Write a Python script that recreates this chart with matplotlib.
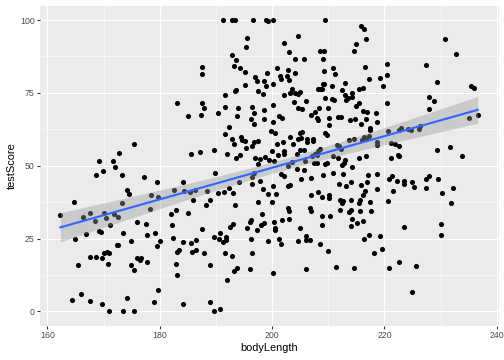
import numpy as np
import matplotlib
matplotlib.use('Agg')
import matplotlib.pyplot as plt

plt.rcParams['font.family'] = ['Liberation Sans', 'DejaVu Sans']

# points (bodyLength, testScore)
body_length = [
    191.3, 192.9, 193.4, 196.6, 198.9, 199.2, 195.6, 195.3, 192.8, 193.5, 187.6, 187.6, 193.3, 194.3, 195.2,
    196.9, 197.3, 198.6, 199.1, 198.9, 195.2, 193.6, 193.4, 197.5, 198.3, 191.6, 183.1, 187.6, 187.8, 190.3,
    191.6, 194.0, 196.4, 196.7, 198.6,
    200.2, 209.5, 215.8, 216.3, 204.7, 202.1, 216.8, 215.0, 203.0, 214.5, 208.5, 209.2, 204.1, 205.7, 209.1,
    200.8, 202.8, 209.3, 210.9, 211.2, 216.6, 204.1, 201.4, 201.6, 202.6, 203.1, 217.3, 219.3, 200.2, 209.1,
    209.3, 210.7, 213.0, 219.7, 203.5, 208.1, 208.5, 208.8, 212.4, 215.5, 216.1, 203.2, 204.0, 204.6, 205.0,
    202.1, 212.9, 214.3, 213.6, 214.2, 213.2, 209.4, 210.7, 211.1, 215.4, 214.9, 206.0, 203.9, 200.2, 208.4,
    210.0, 204.6, 205.4, 207.7, 216.2, 216.9, 218.5,
    220.4, 220.4, 230.8, 232.7, 227.4, 229.3, 235.4, 236.0, 220.4, 228.0, 228.9, 228.0,
    175.4, 169.1, 171.6, 172.8, 172.0, 168.7, 169.9, 173.2, 177.2, 174.1, 174.5, 164.7, 178.5, 173.2, 162.3,
    166.3, 167.5, 170.0, 170.5, 171.9, 172.6, 178.2,
    168.4, 175.9, 177.5, 171.1, 169.2, 169.5, 166.9, 173.5, 177.8, 179.1, 164.9, 174.8, 172.3, 172.6, 170.1,
    170.6, 170.9, 167.6, 168.7, 169.8, 170.8, 165.5, 176.0, 176.4, 176.7, 174.9, 175.5, 177.8, 164.3, 165.9,
    167.5, 169.7, 174.2, 179.0, 171.0, 173.5, 175.5,
    182.2, 187.6, 180.0, 179.5, 182.4, 184.1, 185.5, 186.4, 185.7, 186.4, 183.0, 183.5, 187.9, 189.7, 190.7,
    190.5, 191.2, 191.8, 191.8, 192.5, 193.1, 195.6, 196.0, 196.3, 198.0, 198.6, 197.4, 196.2, 199.2, 182.9,
    183.1, 189.0, 191.6, 192.9, 193.2, 193.7, 192.0, 196.1, 196.4, 179.7, 184.2, 188.9, 189.6, 190.7,
    200.4, 200.5, 200.6, 201.8, 203.1, 204.9, 208.8, 214.0, 215.1, 216.1, 201.2, 201.5, 204.6, 206.0, 206.0,
    206.8, 208.6, 209.9, 216.4, 217.2, 219.3, 218.1, 219.6, 206.0, 211.3, 214.5, 200.1, 214.3,
    223.5, 230.0, 230.0, 222.6, 220.8, 225.6, 224.9,
    185.1, 187.3, 193.8, 196.3, 196.7, 198.6, 192.4, 191.6, 192.8, 193.2, 194.5, 194.7, 195.2, 195.4, 196.8,
    197.5, 196.4, 185.5, 187.2, 189.7, 191.9, 193.5, 194.2, 196.9, 197.8, 198.8, 199.5, 197.5, 189.9, 179.5,
    179.7, 182.5, 184.1, 184.3, 185.4, 186.2, 188.4, 190.4, 191.5, 192.3, 193.1, 194.1, 196.5, 196.4, 196.7,
    197.9, 198.3, 199.2, 186.0, 189.0, 188.3, 193.4, 197.5, 198.2, 182.0, 182.9, 185.0,
    201.3, 201.8, 206.9, 208.0, 208.2, 210.1, 211.7, 212.3, 213.9, 214.7, 216.8, 218.6, 200.2, 199.8, 200.5,
    210.2, 209.4, 209.8, 205.0, 205.4, 203.2, 204.7, 205.2, 206.3, 206.3, 207.2, 207.3, 203.8, 200.8, 201.9,
    200.0, 202.1, 205.0, 205.6, 208.5, 208.2, 207.6, 208.0, 207.1, 204.4, 201.1, 202.1, 211.5, 211.9, 210.9,
    212.2, 213.7, 214.5, 215.8, 217.5, 217.5, 216.4, 216.8, 217.2, 216.0, 218.6, 218.6, 205.9, 207.5, 208.0,
    203.5, 200.4, 202.9, 204.4, 209.4, 209.8, 211.7, 212.4, 212.8, 212.9, 215.5, 216.8, 201.6, 202.1, 205.7,
    209.0, 210.9, 212.6, 214.2, 217.1, 218.7, 200.1, 200.7, 202.8, 203.2, 205.2, 206.9, 212.0, 213.2, 214.0,
    215.8, 216.9, 216.6, 216.1, 218.6, 207.0, 208.1, 208.8, 210.1, 210.1, 212.1, 212.4, 212.6, 214.0, 215.5,
    215.6, 217.4, 200.0, 202.8, 203.0, 206.8, 207.0, 208.9, 210.4, 212.1, 213.7, 214.0, 215.6, 217.7,
    235.1, 236.6, 223.0, 222.6, 224.2, 224.7, 226.2, 226.4, 220.7, 221.2, 221.9, 222.6, 221.1, 222.6, 222.4,
    229.3, 231.7, 233.8, 221.3, 220.9, 222.2, 223.5, 223.5, 224.9, 225.3, 227.4, 228.0, 229.6, 227.4, 232.2,
    230.3, 221.5, 220.7, 231.8,
]
test_score = [
    100, 100, 100, 100, 100, 99.6, 94.0, 90.6, 88.1, 86.4, 83.8, 81.5, 84.3, 83.4, 82.3,
    80.4, 79.2, 79.0, 81.8, 77.3, 77.7, 76.1, 75.5, 75.6, 74.5, 74.3, 71.6, 71.5, 69.8, 68.1,
    70.0, 69.7, 70.2, 68.2, 69.0,
    100, 100, 98.0, 97.1, 94.6, 92.2, 93.5, 91.9, 89.2, 89.3, 89.5, 89.5, 86.8, 86.8, 86.6,
    83.4, 83.0, 82.6, 83.7, 81.5, 83.8, 81.7, 80.7, 79.8, 80.9, 79.6, 79.9, 80.0, 77.9, 78.2,
    77.9, 77.2, 78.4, 77.3, 76.5, 76.5, 76.4, 76.2, 76.0, 76.5, 76.7, 74.8, 75.0, 74.5, 75.4,
    74.2, 74.3, 74.9, 73.3, 73.5, 72.4, 73.2, 73.0, 72.4, 71.4, 70.6, 72.3, 71.8, 70.7, 69.8,
    69.9, 69.7, 69.6, 68.3, 68.8, 68.6, 68.1,
    85.0, 81.0, 93.5, 88.5, 84.6, 78.9, 77.3, 76.7, 71.5, 73.5, 72.2, 69.6,
    57.4, 51.7, 51.7, 54.4, 49.7, 46.8, 48.1, 46.8, 46.3, 41.6, 40.2, 37.6, 40.1, 37.2, 33.1,
    32.5, 33.8, 33.8, 32.2, 33.5, 32.3, 35.1,
    31.0, 30.7, 29.9, 29.5, 27.6, 27.4, 26.5, 26.9, 26.2, 26.8, 24.8, 24.1, 22.7, 22.9, 20.1,
    20.5, 20.2, 18.7, 18.7, 18.4, 16.2, 16.1, 18.4, 17.7, 18.4, 16.1, 14.3, 16.8, 4.0, 6.0,
    3.6, 2.6, 4.5, 3.4, 0, 0, 0,
    29.7, 28.3, 24.1, 22.5, 25.1, 23.7, 23.5, 24.4, 20.5, 21.2, 20.3, 21.0, 20.0, 25.6, 26.8,
    24.7, 23.9, 24.4, 25.5, 28.9, 29.9, 28.8, 30.7, 31.3, 29.7, 30.5, 28.0, 24.7, 24.2, 16.2,
    12.5, 15.9, 20.0, 19.1, 14.0, 14.9, 10.9, 14.4, 20.0, 7.4, 2.6, 3.4, 0, 0.8,
    30.7, 28.6, 27.8, 31.4, 31.8, 28.6, 29.8, 29.3, 30.2, 31.1, 25.0, 23.3, 24.3, 25.8, 24.4,
    24.5, 23.0, 20.6, 24.7, 26.2, 25.9, 20.1, 21.5, 14.5, 15.3, 15.0, 13.1, 31.6,
    29.1, 30.0, 26.4, 16.8, 14.9, 15.6, 6.5,
    67.1, 67.3, 67.1, 66.0, 64.2, 66.2, 63.4, 60.9, 59.2, 57.6, 59.9, 58.8, 58.5, 56.0, 58.2,
    58.5, 56.7, 54.0, 54.8, 55.4, 54.0, 52.7, 53.8, 52.5, 52.2, 53.1, 52.1, 50.6, 47.5, 44.5,
    39.4, 41.8, 44.4, 41.5, 41.1, 41.7, 41.5, 40.8, 41.0, 42.4, 40.8, 44.3, 43.7, 46.3, 47.4,
    44.9, 42.0, 40.3, 38.4, 38.1, 36.5, 36.4, 37.7, 33.3, 33.5, 34.9, 33.9,
    67.1, 66.3, 67.3, 66.5, 65.6, 66.3, 66.7, 66.9, 65.6, 66.0, 66.0, 65.1, 65.1, 61.9, 61.4,
    63.9, 61.4, 60.6, 61.2, 61.6, 59.9, 59.1, 59.4, 59.1, 58.3, 59.3, 58.5, 57.6, 57.4, 58.3,
    55.1, 55.1, 55.5, 55.4, 55.9, 55.1, 54.2, 53.6, 53.4, 54.0, 53.6, 54.2, 57.2, 56.8, 53.4,
    55.7, 59.0, 59.2, 64.4, 62.9, 62.2, 59.7, 59.2, 60.2, 58.8, 58.3, 57.1, 51.7, 50.8, 50.9,
    51.3, 51.7, 50.0, 48.9, 50.6, 50.9, 52.6, 50.4, 51.1, 51.9, 52.6, 53.3, 47.2, 46.6, 48.5,
    46.8, 47.5, 47.2, 49.7, 46.8, 47.2, 43.2, 40.4, 42.9, 43.4, 45.3, 45.8, 43.8, 42.9, 44.3,
    43.5, 44.3, 41.3, 40.1, 42.0, 40.0, 40.9, 39.2, 39.8, 38.9, 38.1, 37.2, 37.8, 38.3, 37.2,
    38.1, 37.5, 37.5, 35.6, 34.3, 35.6, 34.3, 32.7, 32.9, 34.9, 34.1, 34.7, 34.4, 34.4,
    66.3, 67.4, 63.1, 62.2, 62.7, 62.2, 62.6, 63.6, 61.9, 57.7, 57.6, 56.8, 52.5, 53.3, 53.6,
    55.4, 56.6, 53.2, 46.6, 45.5, 44.7, 44.7, 43.7, 44.3, 42.6, 45.5, 46.6, 45.5, 42.3, 42.4,
    40.6, 41.3, 37.8, 37.2,
]

x = np.array(body_length)
y = np.array(test_score)

# linear fit with 95% confidence band (like geom_smooth(method = "lm"))
n = len(x)
slope, intercept = np.polyfit(x, y, 1)
xs = np.linspace(x.min(), x.max(), 80)
fit = intercept + slope * xs
resid = y - (intercept + slope * x)
s = np.sqrt(np.sum(resid ** 2) / (n - 2))
sxx = np.sum((x - x.mean()) ** 2)
se = s * np.sqrt(1 / n + (xs - x.mean()) ** 2 / sxx)
lo, hi = fit - 1.965 * se, fit + 1.965 * se

fig = plt.figure(figsize=(7, 5), dpi=72)
ax = fig.add_axes([39.5 / 504, 34 / 360, 459 / 504, 320.5 / 360])
ax.set_facecolor('#EBEBEB')

ax.scatter(x, y, s=26, color='black', linewidths=0, zorder=3)
ax.fill_between(xs, lo, hi, color='#999999', alpha=0.4, linewidth=0, zorder=4)
ax.plot(xs, fit, color='#3366FF', lw=2.1, zorder=5)

xr = x.max() - x.min()
ax.set_xlim(x.min() - 0.05 * xr, x.max() + 0.05 * xr)
ax.set_ylim(-5, 105)

ax.set_xticks([160, 180, 200, 220, 240])
ax.set_xticks([170, 190, 210, 230], minor=True)
ax.set_yticks([0, 25, 50, 75, 100])
ax.set_yticks([12.5, 37.5, 62.5, 87.5], minor=True)
ax.set_axisbelow(True)
ax.grid(which='major', color='white', lw=1.07)
ax.grid(which='minor', color='white', lw=0.53)
for sp in ax.spines.values():
    sp.set_visible(False)
ax.tick_params(which='major', length=2.75, width=1.07, color='#333333',
               labelcolor='#4D4D4D', labelsize=8.8, pad=2.2)
ax.tick_params(which='minor', length=0)

ax.set_xlabel('bodyLength', fontsize=11, labelpad=3)
ax.set_ylabel('testScore', fontsize=11, labelpad=3)

fig.savefig('out.png', dpi=72)
